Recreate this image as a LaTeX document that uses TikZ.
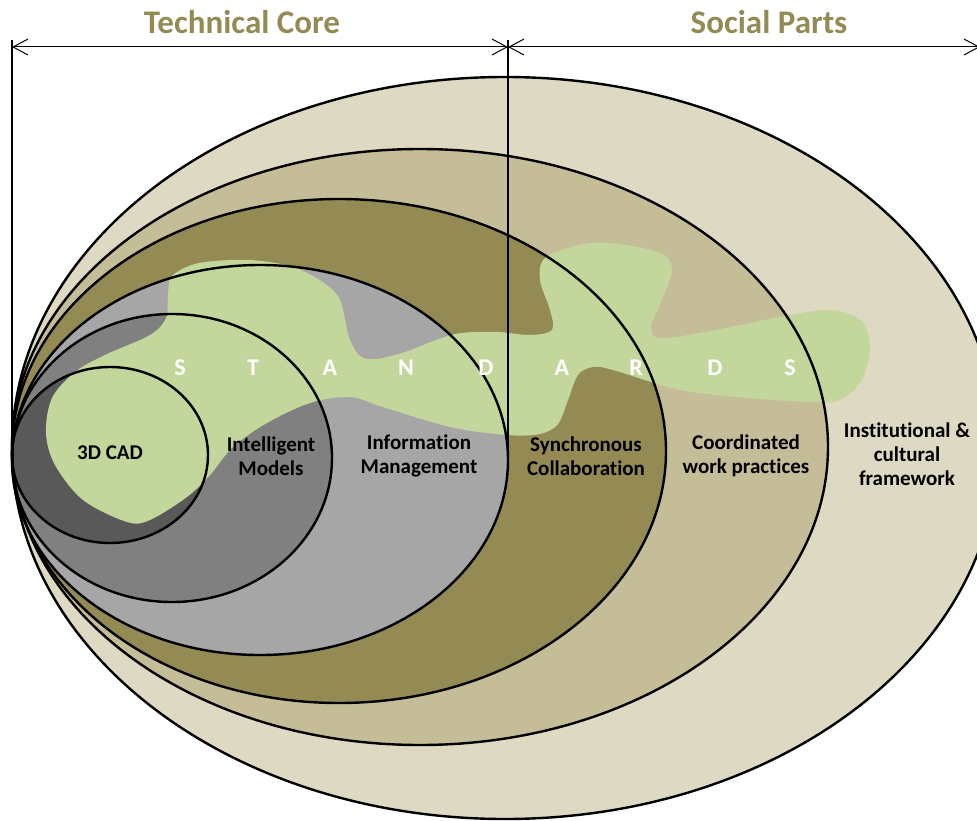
\documentclass[tikz,border=0pt]{standalone}
\usepackage{fontspec}
\setmainfont{Carlito}[Ligatures=NoCommon]
\usetikzlibrary{arrows.meta}
\definecolor{instfill}{HTML}{DDD9C3}
\definecolor{coordfill}{HTML}{C4BD97}
\definecolor{syncfill}{HTML}{948A54}
\definecolor{infofill}{HTML}{A6A6A6}
\definecolor{intelfill}{HTML}{808080}
\definecolor{cadfill}{HTML}{595959}
\definecolor{stdgreen}{HTML}{C3D69B}
\tikzset{
	ring/.style={line width=2.4pt},
	label/.style={font=\bfseries\fontsize{21}{24}\selectfont, align=center},
	title/.style={font=\bfseries\fontsize{33}{33}\selectfont, text=syncfill},
	letter/.style={font=\bfseries\fontsize{24}{24}\selectfont, text=white},
	span/.style={line width=1pt, {Straight Barb[length=15pt,width=16pt]}-{Straight Barb[length=15pt,width=16pt]}}
}
\begin{document}
\begin{tikzpicture}[x=1pt,y=-1pt]
	\useasboundingbox (0,0) rectangle (977,821);
	\clip (0,0) rectangle (977,821);
	\fill [instfill] (505,448) ellipse [x radius=493pt, y radius=371pt];
	\fill [coordfill] (420,447) ellipse [x radius=408pt, y radius=298pt];
	\fill [syncfill] (339,451) ellipse [x radius=327pt, y radius=252pt];
	\fill [infofill] (260,460) ellipse [x radius=248pt, y radius=195pt];
	\fill [intelfill] (172,458) ellipse [x radius=160pt, y radius=144pt];
	\fill [cadfill] (110,455) ellipse [x radius=98pt, y radius=88pt];
	\fill [stdgreen] plot [smooth cycle, tension=0.55] coordinates {
		(46,433) (52,398) (75,372) (105,355) (150,335) (166,318) (168,295) (172,276)
		(199,263) (249,260) (293,267) (324,283) (340,300) (349,337) (360,356) (376,359)
		(405,352) (436,340) (461,333) (498,332) (530,335) (552,330) (550,310) (540,280)
		(545,258) (579,245) (611,243) (660,253) (672,270) (662,300) (651,327) (662,338)
		(716,330) (779,317) (829,310) (860,320) (870,345) (862,380) (840,400) (813,402)
		(747,398) (680,390) (613,370) (593,367) (578,375) (568,400) (558,424) (540,434)
		(507,435) (450,427) (383,407) (350,397) (310,403) (267,423) (233,447) (210,475)
		(187,497) (150,520) (127,522) (83,500) (55,465)};
	\draw [ring] (505,448) ellipse [x radius=493pt, y radius=371pt];
	\draw [ring] (420,447) ellipse [x radius=408pt, y radius=298pt];
	\draw [ring] (339,451) ellipse [x radius=327pt, y radius=252pt];
	\draw [ring] (260,460) ellipse [x radius=248pt, y radius=195pt];
	\draw [ring] (172,458) ellipse [x radius=160pt, y radius=144pt];
	\draw [ring] (110,455) ellipse [x radius=98pt, y radius=88pt];
	\coordinate (leftup) at (12,40);
	\coordinate (leftdown) at (12,452);
	\coordinate (midup) at (508,40);
	\coordinate (middown) at (508,456);
	\coordinate (leftend) at (12,47);
	\coordinate (midpoint) at (508,47);
	\coordinate (rightend) at (980,47);
	\draw [line width=1.3pt] (leftup) -- (leftdown);
	\draw [line width=1.3pt] (midup) -- (middown);
	\draw [span] (leftend) -- (midpoint);
	\draw [span] (midpoint) -- (rightend);
	\node [title] (techcore) at (242,22) {Technical Core};
	\node [title] (socialparts) at (769,22) {Social Parts};
	\node [letter] (s1) at (180,368) {S};
	\node [letter] (t1) at (253,368) {T};
	\node [letter] (a1) at (330,368) {A};
	\node [letter] (n1) at (406,368) {N};
	\node [letter] (d1) at (486,368) {D};
	\node [letter] (a2) at (562,368) {A};
	\node [letter] (r1) at (636,368) {R};
	\node [letter] (d2) at (715,368) {D};
	\node [letter] (s2) at (790,368) {S};
	\node [label] (cad) at (110,453) {3D CAD};
	\node [label] (intel) at (271,456) {Intelligent\\Models};
	\node [label] (info) at (419,456) {Information\\Management};
	\node [label] (sync) at (586,456) {Synchronous\\Collaboration};
	\node [label] (coord) at (746,456) {Coordinated\\work practices};
	\node [label] (inst) at (907,454) {Institutional \&\\cultural\\framework};
\end{tikzpicture}
\end{document}
